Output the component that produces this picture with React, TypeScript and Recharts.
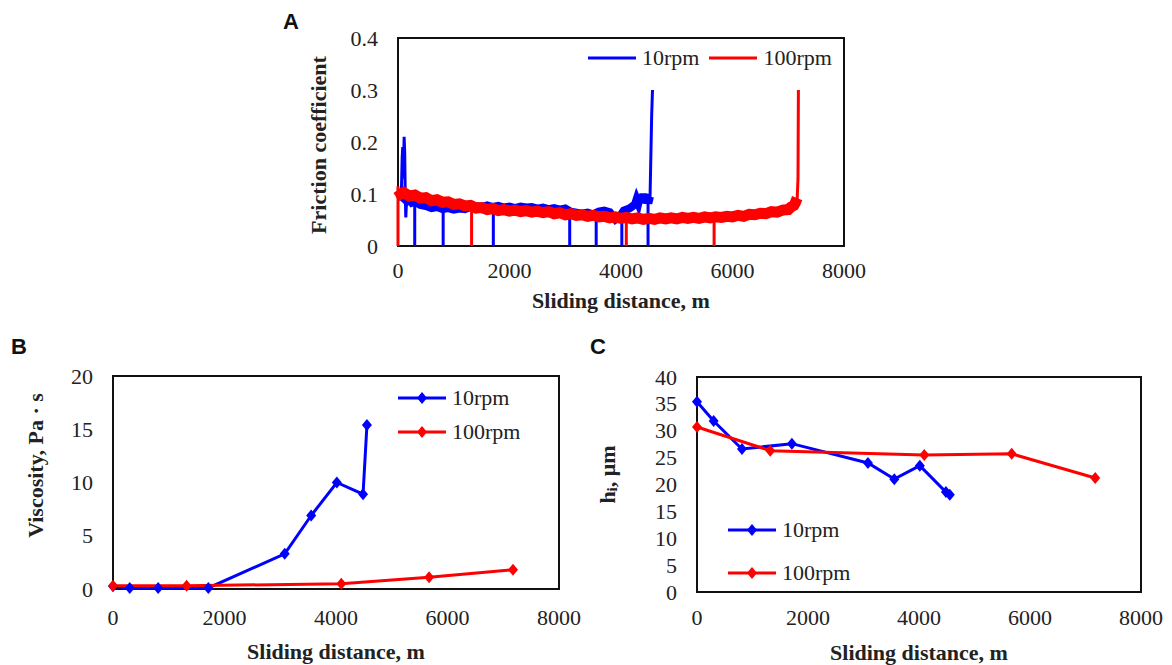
import React from "react"
import { LineChart, Line, XAxis, YAxis, Legend, ReferenceArea } from "recharts"

const SERIF = '"Liberation Serif", "Times New Roman", serif'
const SANS = '"Liberation Sans", Arial, sans-serif'
const BLUE = "#0000ff"
const RED = "#ff0000"
const INK = "#222"

// ---------- panel A: friction coefficient ----------
// centre of the noisy band for each run
const blueBand: [number, number][] = [
  [0, 0.1], [50, 0.097], [160, 0.086], [200, 0.09], [250, 0.083], [300, 0.085],
  [400, 0.079], [500, 0.077], [600, 0.073], [700, 0.075], [800, 0.071], [900, 0.073],
  [1000, 0.07], [1100, 0.072], [1200, 0.071], [1300, 0.075], [1400, 0.077], [1500, 0.075],
  [1600, 0.078], [1700, 0.075], [1800, 0.077], [1900, 0.074], [2000, 0.076], [2100, 0.073],
  [2200, 0.076], [2300, 0.074], [2400, 0.075], [2500, 0.072], [2600, 0.074], [2700, 0.071],
  [2800, 0.073], [2900, 0.07], [3000, 0.072], [3100, 0.066], [3200, 0.064], [3300, 0.062],
  [3400, 0.064], [3500, 0.061], [3600, 0.066], [3700, 0.068], [3800, 0.065], [3850, 0.058],
  [3900, 0.051], [3950, 0.055], [4000, 0.06], [4050, 0.068], [4100, 0.07], [4150, 0.072],
  [4200, 0.076], [4250, 0.08], [4280, 0.09], [4310, 0.082], [4340, 0.096], [4370, 0.083],
  [4400, 0.1], [4430, 0.084], [4460, 0.099], [4490, 0.082], [4520, 0.095],
]
const redBand: [number, number][] = [
  [0, 0.108], [50, 0.1], [100, 0.103], [200, 0.096], [300, 0.098], [400, 0.092],
  [500, 0.093], [600, 0.087], [700, 0.089], [800, 0.084], [900, 0.085], [1000, 0.08],
  [1100, 0.081], [1200, 0.077], [1300, 0.078], [1400, 0.073], [1500, 0.074], [1600, 0.07],
  [1700, 0.072], [1800, 0.068], [1900, 0.07], [2000, 0.067], [2100, 0.069], [2200, 0.066],
  [2300, 0.068], [2400, 0.065], [2500, 0.067], [2600, 0.064], [2700, 0.066], [2800, 0.062],
  [2900, 0.064], [3000, 0.06], [3100, 0.062], [3200, 0.059], [3300, 0.06], [3400, 0.057],
  [3500, 0.059], [3600, 0.056], [3700, 0.057], [3800, 0.054], [3900, 0.056], [4000, 0.053],
  [4100, 0.055], [4200, 0.052], [4300, 0.054], [4400, 0.051], [4500, 0.053], [4600, 0.051],
  [4700, 0.054], [4800, 0.052], [4900, 0.054], [5000, 0.052], [5100, 0.055], [5200, 0.053],
  [5300, 0.055], [5400, 0.053], [5500, 0.056], [5600, 0.054], [5700, 0.056], [5800, 0.055],
  [5900, 0.057], [6000, 0.056], [6100, 0.059], [6200, 0.057], [6300, 0.061], [6400, 0.06],
  [6500, 0.063], [6600, 0.062], [6700, 0.066], [6800, 0.065], [6900, 0.069], [7000, 0.07],
  [7050, 0.075], [7100, 0.078], [7130, 0.084], [7160, 0.092],
]
// stops where the trace falls to zero: [distance, level before the drop]
const blueDrops: [number, number][] = [
  [300, 0.08], [810, 0.07], [1710, 0.075], [3080, 0.068], [3555, 0.062], [4015, 0.06], [4485, 0.085],
]
const redDrops: [number, number][] = [[1320, 0.075], [4095, 0.054], [5670, 0.055]]
const blueStartPeak: [number, number][] = [
  [60, 0.1], [75, 0.17], [85, 0.19], [95, 0.13], [110, 0.21], [120, 0.18], [130, 0.1],
  [140, 0.055], [150, 0.08], [165, 0.09],
]
const blueEnd: [number, number][] = [[4520, 0.09], [4550, 0.25], [4565, 0.3]]
const redStart: [number, number][] = [[0, 0], [0, 0.115]]
const redEnd: [number, number][] = [[7160, 0.09], [7175, 0.13], [7182, 0.3]]

// ---------- panels B and C ----------
const tenRpmX = [0, 300, 810, 1710, 3080, 3555, 4015, 4485, 4555]
const hundredRpmX = [0, 1320, 4095, 5670, 7175]
const tenRpmViscosity = [0.25, 0.1, 0.1, 0.1, 3.3, 6.9, 10.0, 8.9, 15.4]
const hundredRpmViscosity = [0.3, 0.3, 0.5, 1.1, 1.8]
const tenRpmHi = [35.4, 31.8, 26.6, 27.6, 24.0, 21.0, 23.5, 18.6, 18.1]
const hundredRpmHi = [30.7, 26.3, 25.5, 25.7, 21.2]

const seriesOrder = ["10rpm", "100rpm"]
const xTicks = [0, 2000, 4000, 6000, 8000]
const frictionTicks = [0, 0.1, 0.2, 0.3, 0.4]
const viscosityTicks = [0, 5, 10, 15, 20]
const hiTicks = [0, 5, 10, 15, 20, 25, 30, 35, 40]

type Pt = { x: number; y: number | null }
const toPts = (pairs: [number, number][]): Pt[] => pairs.map(([x, y]) => ({ x, y }))
const zip = (xs: number[], ys: number[]): Pt[] => xs.map((x, i) => ({ x, y: ys[i] }))
const gap = (pts: Pt[]): Pt[] => [...pts, { x: pts[pts.length - 1].x, y: null }]
const drops = (d: [number, number][]): Pt[] =>
  d.flatMap(([x, top]) => gap([{ x, y: top }, { x, y: 0 }]))

const blueSpikes = [...gap(toPts(blueStartPeak)), ...drops(blueDrops), ...toPts(blueEnd)]
const redSpikes = [...gap(toPts(redStart)), ...drops(redDrops), ...toPts(redEnd)]

const tickText: React.CSSProperties = { fontFamily: SERIF, fontSize: 22, fill: INK }
const titleStyle: React.CSSProperties = { fontFamily: SERIF, fontSize: 22, fontWeight: 700, fill: INK }

const XTick = (props: any) => (
  <text x={props.x} y={props.y} dy="0.71em" textAnchor="middle" style={tickText}>
    {String(props.payload.value)}
  </text>
)
const YTick = (props: any) => (
  <text x={props.x} y={props.y} textAnchor="end" dominantBaseline="central" style={tickText}>
    {String(props.payload.value)}
  </text>
)

function XTitle(props: any) {
  const { viewBox, caption, dy } = props
  const x = viewBox.x + viewBox.width / 2
  const y = viewBox.y + dy
  return (
    <text x={x} y={y} textAnchor="middle" dominantBaseline="central" style={titleStyle}>
      {caption}
    </text>
  )
}

function YTitle(props: any) {
  const { viewBox, caption, dx, dy, sub } = props
  const x = viewBox.x + dx
  const y = viewBox.y + viewBox.height / 2 + dy
  return (
    <text
      x={x}
      y={y}
      transform={`rotate(-90 ${x} ${y})`}
      textAnchor="middle"
      dominantBaseline="central"
      style={titleStyle}
    >
      {sub ? (
        <>
          <tspan>h</tspan>
          <tspan dy={5} fontSize={15}>i</tspan>
          <tspan dy={-5}>{caption}</tspan>
        </>
      ) : (
        caption
      )}
    </text>
  )
}

const Diamond = (props: any) => {
  const { cx, cy, stroke, index } = props
  return (
    <path
      key={`d-${index}`}
      d={`M${cx},${cy - 6}L${cx + 5},${cy}L${cx},${cy + 6}L${cx - 5},${cy}Z`}
      fill={stroke}
    />
  )
}

const makeLegend = (column: boolean, spacing: number, diamond: boolean) => (props: any) => {
  const items = (props.payload || [])
    .filter((p: any) => seriesOrder.includes(p.value))
    .sort((a: any, b: any) => seriesOrder.indexOf(a.value) - seriesOrder.indexOf(b.value))
  return (
    <div
      style={{
        display: "flex",
        flexDirection: column ? "column" : "row",
        gap: spacing,
        fontFamily: SERIF,
        fontSize: 22,
        lineHeight: "24px",
        color: INK,
      }}
    >
      {items.map((it: any) => (
        <div key={it.value} style={{ display: "flex", alignItems: "center" }}>
          <svg width={48} height={14} style={{ marginRight: 6 }}>
            <line x1={0} y1={7} x2={48} y2={7} stroke={it.color} strokeWidth={3} />
            {diamond && <path d="M24,1L29,7L24,13L19,7Z" fill={it.color} />}
          </svg>
          <span>{it.value}</span>
        </div>
      ))}
    </div>
  )
}

const panelLetter = (letter: string, left: number, top: number) => (
  <div
    style={{
      position: "absolute",
      left,
      top,
      fontFamily: SANS,
      fontWeight: 700,
      fontSize: 22,
      lineHeight: "24px",
      color: "#111",
    }}
  >
    {letter}
  </div>
)

// legend placed by wrapperStyle; layout/align chosen so it takes no room from the plot
const legendProps = { layout: "vertical" as const, align: "center" as const, verticalAlign: "middle" as const }

export default function App() {
  return (
    <div
      style={{
        position: "absolute",
        left: 0,
        top: 0,
        width: 1172,
        height: 665,
        background: "#fff",
        overflow: "hidden",
        fontFamily: SERIF,
      }}
    >
      {panelLetter("A", 283, 10)}
      {panelLetter("B", 11, 335)}
      {panelLetter("C", 590, 335)}

      {/* A: friction coefficient */}
      <div style={{ position: "absolute", left: 280, top: 0 }}>
        <LineChart width={600} height={330} margin={{ top: 38, right: 36, left: 38, bottom: 14 }}>
          <XAxis
            type="number"
            dataKey="x"
            domain={[0, 8000]}
            ticks={xTicks}
            interval={0}
            axisLine={false}
            tickLine={false}
            tickMargin={10}
            height={70}
            tick={XTick}
            label={<XTitle caption="Sliding  distance, m" dy={54} />}
          />
          <YAxis
            type="number"
            dataKey="y"
            domain={[0, 0.4]}
            ticks={frictionTicks}
            interval={0}
            axisLine={false}
            tickLine={false}
            tickMargin={14}
            width={80}
            tick={YTick}
            label={<YTitle caption="Friction coefficient" dx={0} dy={3} />}
          />
          <ReferenceArea x1={0} x2={8000} y1={0} y2={0.4} fill="none" stroke="#111" strokeWidth={2} />
          <Line data={toPts(blueBand)} dataKey="y" name="10rpm" stroke={BLUE} strokeWidth={8}
            dot={false} activeDot={false} isAnimationActive={false} />
          <Line data={blueSpikes} dataKey="y" name="10rpm-spikes" legendType="none" stroke={BLUE} strokeWidth={3}
            dot={false} activeDot={false} isAnimationActive={false} />
          <Line data={toPts(redBand)} dataKey="y" name="100rpm" stroke={RED} strokeWidth={11}
            dot={false} activeDot={false} isAnimationActive={false} />
          <Line data={redSpikes} dataKey="y" name="100rpm-spikes" legendType="none" stroke={RED} strokeWidth={3}
            dot={false} activeDot={false} isAnimationActive={false} />
          <Legend {...legendProps} content={makeLegend(false, 10, false)}
            wrapperStyle={{ left: 308, top: 46, width: "auto" }} />
        </LineChart>
      </div>

      {/* B: viscosity */}
      <div style={{ position: "absolute", left: 0, top: 330 }}>
        <LineChart width={600} height={335} margin={{ top: 46, right: 41, left: 33, bottom: 6 }}>
          <XAxis
            type="number"
            dataKey="x"
            domain={[0, 8000]}
            ticks={xTicks}
            interval={0}
            axisLine={false}
            tickLine={false}
            tickMargin={14}
            height={70}
            tick={XTick}
            label={<XTitle caption="Sliding  distance, m" dy={62} />}
          />
          <YAxis
            type="number"
            dataKey="y"
            domain={[0, 20]}
            ticks={viscosityTicks}
            interval={0}
            axisLine={false}
            tickLine={false}
            tickMargin={14}
            width={80}
            tick={YTick}
            label={<YTitle caption="Viscosity, Pa · s" dx={2} dy={-17} />}
          />
          <ReferenceArea x1={0} x2={8000} y1={0} y2={20} fill="none" stroke="#111" strokeWidth={2} />
          <Line data={zip(tenRpmX, tenRpmViscosity)} dataKey="y" name="10rpm" stroke={BLUE} strokeWidth={3}
            dot={Diamond} activeDot={false} isAnimationActive={false} />
          <Line data={zip(hundredRpmX, hundredRpmViscosity)} dataKey="y" name="100rpm" stroke={RED} strokeWidth={3}
            dot={Diamond} activeDot={false} isAnimationActive={false} />
          <Legend {...legendProps} content={makeLegend(true, 10, true)}
            wrapperStyle={{ left: 398, top: 56, width: "auto" }} />
        </LineChart>
      </div>

      {/* C: hi */}
      <div style={{ position: "absolute", left: 580, top: 330 }}>
        <LineChart width={592} height={335} margin={{ top: 47, right: 31, left: 37, bottom: 3 }}>
          <XAxis
            type="number"
            dataKey="x"
            domain={[0, 8000]}
            ticks={xTicks}
            interval={0}
            axisLine={false}
            tickLine={false}
            tickMargin={11}
            height={70}
            tick={XTick}
            label={<XTitle caption="Sliding  distance, m" dy={60} />}
          />
          <YAxis
            type="number"
            dataKey="y"
            domain={[0, 40]}
            ticks={hiTicks}
            interval={0}
            axisLine={false}
            tickLine={false}
            tickMargin={14}
            width={80}
            tick={YTick}
            label={<YTitle caption=", μm" sub dx={-10} dy={-10} />}
          />
          <ReferenceArea x1={0} x2={8000} y1={0} y2={40} fill="none" stroke="#111" strokeWidth={2} />
          <Line data={zip(tenRpmX, tenRpmHi)} dataKey="y" name="10rpm" stroke={BLUE} strokeWidth={3}
            dot={Diamond} activeDot={false} isAnimationActive={false} />
          <Line data={zip(hundredRpmX, hundredRpmHi)} dataKey="y" name="100rpm" stroke={RED} strokeWidth={3}
            dot={Diamond} activeDot={false} isAnimationActive={false} />
          <Legend {...legendProps} content={makeLegend(true, 19, true)}
            wrapperStyle={{ left: 148, top: 188, width: "auto" }} />
        </LineChart>
      </div>
    </div>
  )
}
